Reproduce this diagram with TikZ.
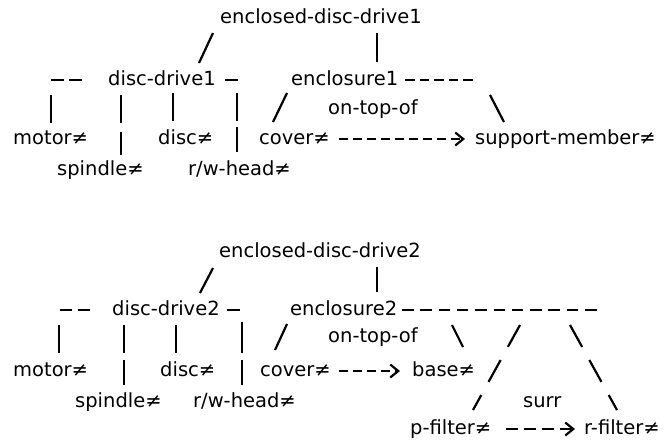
\documentclass[tikz,border=0pt]{standalone}
\usepackage{fontspec}
\setmainfont{DejaVu Sans}
\usetikzlibrary{arrows.meta}

\begin{document}
\fontsize{19.5}{23}\selectfont
\begin{tikzpicture}[x=1pt, y=-1pt]
\tikzstyle{lbl} = [anchor=mid west, inner sep=0pt]
\tikzstyle{link} = [line width=2.2pt]
\tikzstyle{treebar} = [line width=2.2pt, dash pattern=on 9.6pt off 5pt]
\tikzstyle{longlink} = [line width=2.2pt, dash pattern=on 25pt off 15pt]
\tikzstyle{relarrow} = [line width=2.2pt, dash pattern=on 9pt off 5pt, -{Straight Barb[length=8pt, width=13pt]}]

\useasboundingbox (0,0) rectangle (667,440);

\node (root1) [lbl] at (220,18) {enclosed-disc-drive1};
\node (dd1) [lbl] at (108,80) {disc-drive1};
\node (enc1) [lbl] at (291,80) {enclosure1};
\node (rel1) [lbl] at (328,109) {on-top-of};
\node (motor1) [lbl] at (13,139) {motor≠};
\node (disc1) [lbl] at (158,139) {disc≠};
\node (cover1) [lbl] at (259,139) {cover≠};
\node (sup1) [lbl] at (475,139) {support-member≠};
\node (spindle1) [lbl] at (57,170) {spindle≠};
\node (head1) [lbl] at (188,170) {r/w-head≠};

\draw [link] ([shift={(-7,15)}]root1.mid west) -- ([shift={(91,-17)}]dd1.mid west);
\draw [link] ([shift={(157,15)}]root1.mid west) -- ([shift={(86,-18)}]enc1.mid west);
\draw [link, dash pattern=on 13pt off 5pt] ([shift={(-26,0)}]dd1.mid west) -- ([shift={(-58,0)}]dd1.mid west);
\draw [link] ([shift={(117,0)}]dd1.mid west) -- ([shift={(130,0)}]dd1.mid west);
\draw [link] ([shift={(38,-44)}]motor1.mid west) -- ([shift={(38,-16)}]motor1.mid west);
\draw [link] ([shift={(64,-75)}]spindle1.mid west) -- ([shift={(64,-47)}]spindle1.mid west);
\draw [link] ([shift={(64,-38)}]spindle1.mid west) -- ([shift={(64,-15)}]spindle1.mid west);
\draw [link] ([shift={(15,-46)}]disc1.mid west) -- ([shift={(15,-18)}]disc1.mid west);
\draw [link] ([shift={(49,-77)}]head1.mid west) -- ([shift={(49,-49)}]head1.mid west);
\draw [link] ([shift={(49,-43)}]head1.mid west) -- ([shift={(49,-18)}]head1.mid west);
\draw [treebar] ([shift={(114,0)}]enc1.mid west) -- ([shift={(182,0)}]enc1.mid west);
\draw [link] ([shift={(-4,13)}]enc1.mid west) -- ([shift={(14,-17)}]cover1.mid west);
\draw [link] ([shift={(199,15)}]enc1.mid west) -- ([shift={(29,-17)}]sup1.mid west);
\draw [relarrow, shorten <=9pt] (cover1.mid east) -- ([xshift=-10pt]sup1.mid west);

\node (root2) [lbl] at (219,252) {enclosed-disc-drive2};
\node (dd2) [lbl] at (112,310) {disc-drive2};
\node (enc2) [lbl] at (290,310) {enclosure2};
\node (rel2) [lbl] at (328,337) {on-top-of};
\node (motor2) [lbl] at (13,371) {motor≠};
\node (disc2) [lbl] at (160,371) {disc≠};
\node (cover2) [lbl] at (260,371) {cover≠};
\node (base2) [lbl] at (412,371) {base≠};
\node (spindle2) [lbl] at (75,402) {spindle≠};
\node (head2) [lbl] at (193,402) {r/w-head≠};
\node (surr2) [lbl] at (523,402) {surr};
\node (pfilter2) [lbl] at (410,429) {p-filter≠};
\node (rfilter2) [lbl] at (584,429) {r-filter≠};

\draw [link] ([shift={(-6,16)}]root2.mid west) -- ([shift={(88,-17)}]dd2.mid west);
\draw [link] ([shift={(158,15)}]root2.mid west) -- ([shift={(87,-18)}]enc2.mid west);
\draw [link, dash pattern=on 12pt off 6pt] ([shift={(-22,0)}]dd2.mid west) -- ([shift={(-52,0)}]dd2.mid west);
\draw [link] ([shift={(115,0)}]dd2.mid west) -- ([shift={(128,0)}]dd2.mid west);
\draw [link] ([shift={(46,-46)}]motor2.mid west) -- ([shift={(46,-18)}]motor2.mid west);
\draw [link] ([shift={(49,-77)}]spindle2.mid west) -- ([shift={(49,-49)}]spindle2.mid west);
\draw [link] ([shift={(49,-42)}]spindle2.mid west) -- ([shift={(49,-17)}]spindle2.mid west);
\draw [link] ([shift={(16,-46)}]disc2.mid west) -- ([shift={(16,-18)}]disc2.mid west);
\draw [link] ([shift={(49,-80)}]head2.mid west) -- ([shift={(49,-49)}]head2.mid west);
\draw [link] ([shift={(49,-42)}]head2.mid west) -- ([shift={(49,-17)}]head2.mid west);
\draw [treebar, dash pattern=on 11.5pt off 6.8pt] ([shift={(112,0)}]enc2.mid west) -- ([shift={(307,0)}]enc2.mid west);
\draw [link] ([shift={(-3,14)}]enc2.mid west) -- ([shift={(15,-21)}]cover2.mid west);
\draw [link] ([shift={(162,15)}]enc2.mid west) -- ([shift={(51,-24)}]base2.mid west);
\draw [longlink] ([shift={(230,15)}]enc2.mid west) -- ([shift={(63,-19)}]pfilter2.mid west);
\draw [longlink] ([shift={(280,15)}]enc2.mid west) -- ([shift={(33,-19)}]rfilter2.mid west);
\draw [relarrow, shorten <=8pt] (cover2.mid east) -- ([xshift=-12pt]base2.mid west);
\draw [relarrow, dash pattern=on 12pt off 6pt, shorten <=14pt] (pfilter2.mid east) -- ([xshift=-9pt]rfilter2.mid west);

\end{tikzpicture}
\end{document}
